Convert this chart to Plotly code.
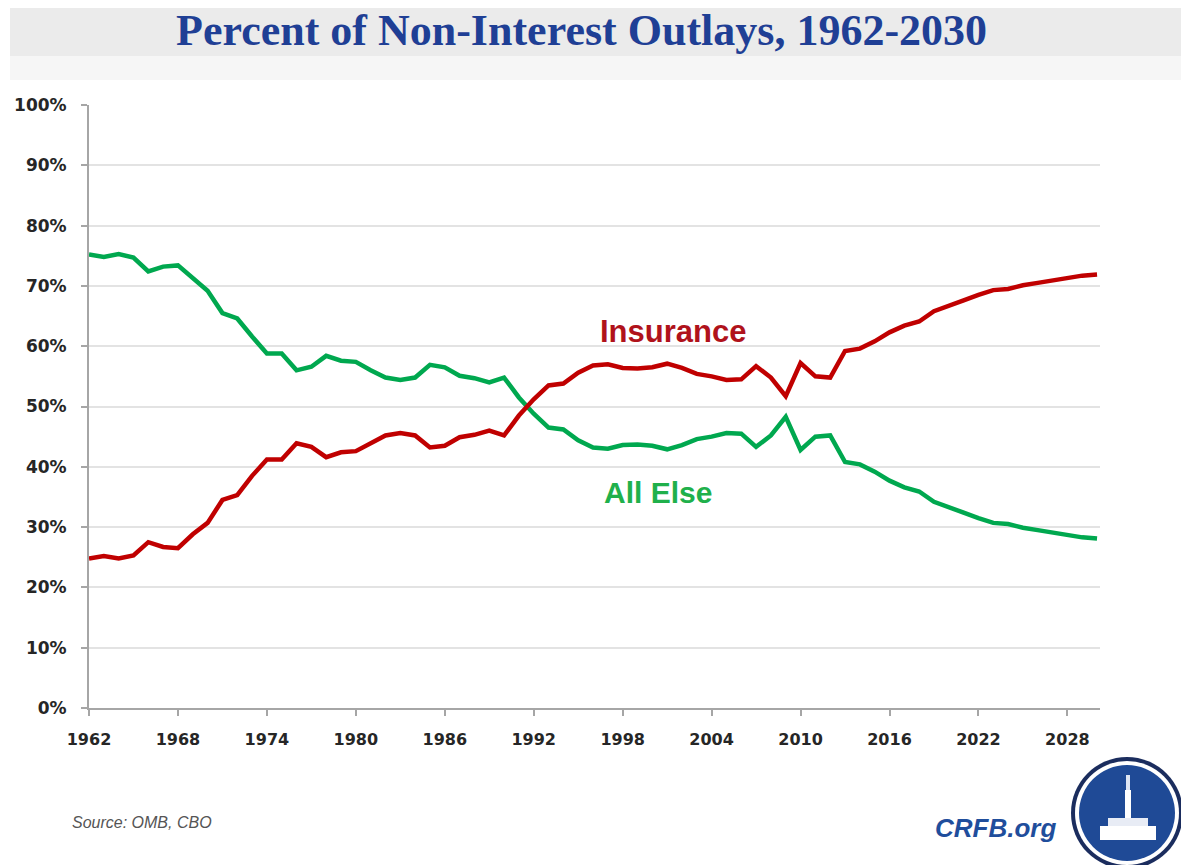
import plotly.graph_objects as go

years = list(range(1962, 2031))
insurance = [24.8, 25.2, 24.8, 25.3, 27.5, 26.7, 26.5, 28.8, 30.7, 34.5,
             35.3, 38.5, 41.2, 41.2, 43.9, 43.3, 41.6, 42.4, 42.6, 44.0,
             45.2, 45.6, 45.2, 43.2, 43.5, 44.9, 45.3, 46.0, 45.2, 48.5,
             51.2, 53.5, 53.8, 55.6, 56.8, 57.0, 56.4, 56.3, 56.5, 57.1,
             56.4, 55.4, 55.0, 54.4, 54.5, 56.7, 54.8, 51.7, 57.2, 55.0,
             54.8, 59.2, 59.6, 60.8, 62.3, 63.4, 64.1, 65.8, 66.8, 67.6,
             68.5, 69.3, 69.5, 70.1, 70.5, 70.9, 71.3, 71.7, 71.9]
all_else = [75.2, 74.8, 75.3, 74.7, 72.4, 73.2, 73.4, 71.2, 69.2, 65.5,
            64.6, 61.6, 58.8, 58.8, 56.0, 56.6, 58.4, 57.6, 57.4, 56.0,
            54.8, 54.4, 54.8, 56.9, 56.5, 55.1, 54.7, 54.0, 54.8, 51.5,
            48.8, 46.5, 46.2, 44.4, 43.2, 43.0, 43.6, 43.7, 43.5, 42.9,
            43.6, 44.6, 45.0, 45.6, 45.5, 43.3, 45.2, 48.3, 42.8, 45.0,
            45.2, 40.8, 40.4, 39.2, 37.7, 36.6, 35.9, 34.2, 33.2, 32.4,
            31.5, 30.7, 30.5, 29.9, 29.5, 29.1, 28.7, 28.3, 28.1]
x_ticks = list(range(1962, 2030, 6))
y_ticks = list(range(0, 101, 10))
y_tick_labels = [f"{v}%" for v in y_ticks]

RED = "#c00000"
GREEN = "#00a84f"

W, H = 1181, 865
L, R, T, B = 89, 1100, 105, 708


def px(x):
    return (x - L) / (R - L)


def py(y):
    return (B - y) / (B - T)


fig = go.Figure()
fig.add_trace(go.Scatter(x=years, y=all_else, mode="lines", name="All Else",
                         line=dict(color=GREEN, width=4.5)))
fig.add_trace(go.Scatter(x=years, y=insurance, mode="lines", name="Insurance",
                         line=dict(color=RED, width=4.5)))

shapes = [
    dict(type="rect", xref="paper", yref="paper", x0=px(10), x1=px(1181),
         y0=py(56), y1=py(8), fillcolor="#ebebeb", line_width=0, layer="below"),
    dict(type="rect", xref="paper", yref="paper", x0=px(10), x1=px(1181),
         y0=py(80), y1=py(56), fillcolor="#f6f6f6", line_width=0, layer="below"),
    # logo
    dict(type="circle", xref="paper", yref="paper", x0=px(1071), x1=px(1183),
         y0=py(869), y1=py(757), fillcolor="#1b2d5e", line_width=0),
    dict(type="circle", xref="paper", yref="paper", x0=px(1075), x1=px(1179),
         y0=py(865), y1=py(761), fillcolor="#ffffff", line_width=0),
    dict(type="circle", xref="paper", yref="paper", x0=px(1079), x1=px(1175),
         y0=py(861), y1=py(765), fillcolor="#1f4a96", line_width=0),
    # simplified capitol
    dict(type="rect", xref="paper", yref="paper", x0=px(1100), x1=px(1156),
         y0=py(840), y1=py(826), fillcolor="#ffffff", line_width=0),
    dict(type="rect", xref="paper", yref="paper", x0=px(1108), x1=px(1148),
         y0=py(826), y1=py(818), fillcolor="#e8ecf5", line_width=0),
    dict(type="rect", xref="paper", yref="paper", x0=px(1125), x1=px(1131),
         y0=py(818), y1=py(790), fillcolor="#ffffff", line_width=0),
    dict(type="rect", xref="paper", yref="paper", x0=px(1126), x1=px(1130),
         y0=py(790), y1=py(775), fillcolor="#dfe6f3", line_width=0),
]

annotations = [
    dict(text="<b>Percent of Non-Interest Outlays, 1962-2030</b>", xref="paper", yref="paper",
         x=px(581), y=py(31), showarrow=False, xanchor="center", yanchor="middle",
         font=dict(family="Liberation Serif", size=44, color="#1f3f95")),
    dict(text="<b>Insurance</b>", x=2001.4, y=62.5, showarrow=False,
         font=dict(family="Liberation Sans", size=31, color="#b0121b")),
    dict(text="<b>All Else</b>", x=2000.4, y=35.8, showarrow=False,
         font=dict(family="Liberation Sans", size=30, color="#20b04b")),
    dict(text="<i>Source: OMB, CBO</i>", xref="paper", yref="paper",
         x=px(70), y=py(822), showarrow=False, xanchor="left", yanchor="middle",
         font=dict(family="Liberation Sans", size=16, color="#555555")),
    dict(text="<b><i>CRFB.org</i></b>", xref="paper", yref="paper",
         x=px(1058), y=py(828), showarrow=False, xanchor="right", yanchor="middle",
         font=dict(family="Liberation Sans", size=26, color="#1f4e9c")),
]

fig.update_layout(
    width=W, height=H,
    margin=dict(l=L, r=W - R, t=T, b=H - B),
    paper_bgcolor="white", plot_bgcolor="white",
    showlegend=False,
    shapes=shapes, annotations=annotations,
    xaxis=dict(range=[1962, 2030.2], tickmode="array", tickvals=x_ticks,
               ticktext=[str(v) for v in x_ticks],
               showgrid=False, zeroline=False, showline=True, linecolor="#a6a6a6",
               linewidth=2, ticks="outside", ticklen=6, tickcolor="#a6a6a6",
               tickwidth=1.5, ticklabelstandoff=10,
               tickfont=dict(family="DejaVu Sans", size=16,
                             color="#262626", weight="bold")),
    yaxis=dict(range=[0, 100], tickmode="array", tickvals=y_ticks, ticktext=y_tick_labels,
               showgrid=True, gridcolor="#e3e3e3", gridwidth=1.8, zeroline=False,
               showline=True, linecolor="#a6a6a6", linewidth=2, ticks="outside",
               ticklen=6, tickcolor="#a6a6a6", tickwidth=1.5, ticklabelstandoff=11,
               tickfont=dict(family="DejaVu Sans", size=17, color="#262626", weight="bold")),
)

fig.write_html("out.html")
